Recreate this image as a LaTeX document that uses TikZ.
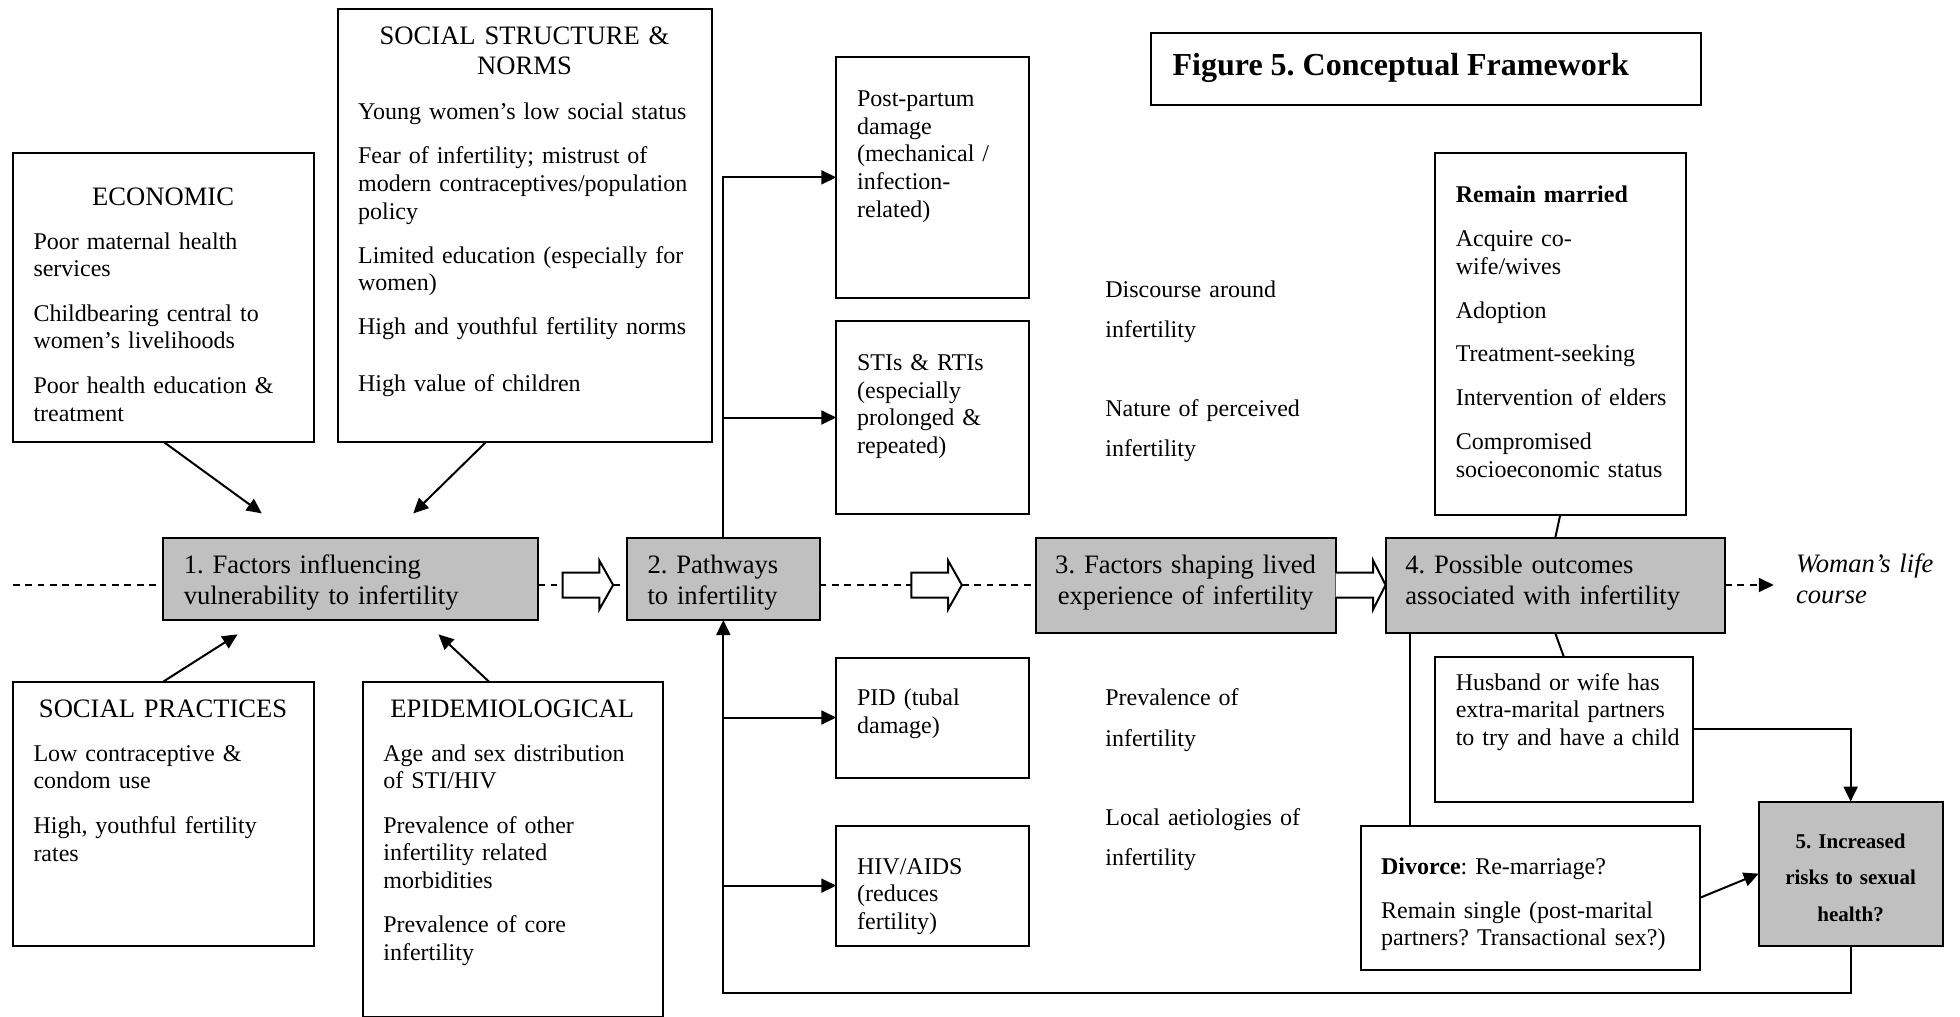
\documentclass[tikz,border=0pt]{standalone}
\usepackage{fontspec}
\setmainfont{Liberation Serif}
\usetikzlibrary{arrows.meta,fit}
\definecolor{boxgrey}{RGB}{192,192,192}
\frenchspacing

\tikzset{
  frame/.style={draw, line width=1pt, inner sep=0pt, outer sep=0pt},
  greybox/.style={frame, fill=boxgrey},
  body/.style={anchor=base west, inner sep=0pt, outer sep=0pt, align=left,
    text width=#1, font=\fontsize{12}{13.8}\selectfont},
  body/.default=120pt,
  wide/.style={body=#1, font=\fontsize{12}{20.3}\selectfont},
  wide/.default=110pt,
  heading/.style={anchor=base, inner sep=0pt, outer sep=0pt, align=center,
    text width=#1, font=\fontsize{13.3}{15}\selectfont},
  heading/.default=150pt,
  stage/.style={anchor=base west, inner sep=0pt, outer sep=0pt, align=left,
    text width=#1, font=\fontsize{13.3}{15.3}\selectfont},
  stage/.default=150pt,
  conn/.style={line width=1pt},
  arr/.style={conn, -{Triangle[length=7.5pt,width=7pt]}},
  dashline/.style={conn, dash pattern=on 3.4pt off 2.8pt},
  hollowarrow/.pic={
    \coordinate (-tail) at (0,0);
    \coordinate (-tip) at (40.5,0);
    \filldraw[conn, fill=white, line join=miter]
      (0,-10) -- (29.5,-10) -- (29.5,-19.5) -- (40.5,0) -- (29.5,19.5)
      -- (29.5,10) -- (0,10) -- cycle;
  },
  hollowhead/.pic={
    \coordinate (-tip) at (40,0);
    \fill[white] (0,-10) -- (30,-10) -- (30,-19.5) -- (40,0) -- (30,19.5)
      -- (30,10) -- (0,10) -- cycle;
    \draw[conn, line join=miter]
      (0,-10) -- (30,-10) -- (30,-19.5) -- (40,0) -- (30,19.5)
      -- (30,10) -- (0,10);
  },
}

\begin{document}
\begin{tikzpicture}[x=0.625pt, y=-0.625pt]
\useasboundingbox (0,0) rectangle (1568,813.6);

% ---------- title ----------
\node[frame, fit={(920.7,26.7) (1361,84.2)}] (titlebox) {};
\node[anchor=base west, inner sep=0pt, font=\fontsize{16}{19}\selectfont\bfseries]
  (title) at (937.8,60) {Figure 5. Conceptual Framework};

% ---------- determinants ----------
\node[frame, fit={(10.3,122.7) (250.9,353.3)}] (econ) {};
\node[heading] (econH) at (130.5,164.3) {ECONOMIC};
\node[body=136pt] (econT) at (26.8,199.3)
  {Poor maternal health\\services\\[8.5pt]Childbearing central to\\women’s livelihoods\\[8.5pt]Poor health education \&\\treatment};

\node[frame, fit={(270,7.5) (569.3,353.3)}] (socs) {};
\node[heading=180pt] (socsH) at (419.6,35.8) {SOCIAL STRUCTURE \&\\NORMS};
\node[body=174pt] (socsT) at (286.5,95.9)
  {Young women’s low social status\\[8.2pt]Fear of infertility; mistrust of\\modern contraceptives/population\\policy\\[8.2pt]Limited education (especially for\\women)\\[8.2pt]High and youthful fertility norms\\[14.5pt]High value of children};

\node[frame, fit={(10.3,545.3) (250.9,756.5)}] (socp) {};
\node[heading] (socpH) at (130.5,573.7) {SOCIAL PRACTICES};
\node[body=136pt] (socpT) at (26.8,609)
  {Low contraceptive \&\\condom use\\[8.5pt]High, youthful fertility\\rates};

\node[frame, fit={(290,545.3) (530,813.6)}] (epid) {};
\node[heading] (epidH) at (409.8,573.7) {EPIDEMIOLOGICAL};
\node[body=136pt] (epidT) at (306.7,609)
  {Age and sex distribution\\of STI/HIV\\[8.3pt]Prevalence of other\\infertility related\\morbidities\\[8.3pt]Prevalence of core\\infertility};

% ---------- stages along the life course ----------
\node[greybox, fit={(130.4,430) (430.5,496)}] (box1) {};
\node[stage=175pt] (box1T) at (147,459) {1. Factors influencing\\vulnerability to infertility};

\node[greybox, fit={(501.6,430) (655.7,496)}] (box2) {};
\node[stage=84pt] (box2T) at (518,459) {2. Pathways\\to infertility};

\node[greybox, fit={(828.6,430) (1068.5,506.7)}] (box3) {};
\node[stage=148pt, anchor=base, align=center] (box3T) at (948.5,459)
  {3. Factors shaping lived\\experience of infertility};

\node[greybox, fit={(1108.5,430) (1380,506.7)}] (box4) {};
\node[stage=156pt] (box4T) at (1124.2,459) {4. Possible outcomes\\associated with infertility};

\node[greybox, fit={(1407,641.3) (1554,756.5)}] (box5) {};
\node[anchor=base, inner sep=0pt, align=center, text width=88pt,
  font=\fontsize{10.5}{18.4}\selectfont\bfseries] (box5T) at (1480.5,678.5)
  {5. Increased\\risks to sexual\\health?};

\node[stage=80pt, font=\fontsize{13.3}{15.8}\selectfont\itshape] (life) at (1436.8,457.7)
  {Woman’s life\\course};

% ---------- pathways ----------
\node[frame, fit={(669,45.8) (823,238)}] (pp) {};
\node[body=84pt] (ppT) at (685.7,85.4)
  {Post-partum\\damage\\(mechanical /\\infection-\\related)};

\node[frame, fit={(669,257) (823,411)}] (sti) {};
\node[body=84pt] (stiT) at (685.7,296.5)
  {STIs \& RTIs\\(especially\\prolonged \&\\repeated)};

\node[frame, fit={(669,526) (823,622)}] (pid) {};
\node[body=84pt] (pidT) at (685.7,564.5) {PID (tubal\\damage)};

\node[frame, fit={(669,660.5) (823,756.5)}] (hiv) {};
\node[body=84pt] (hivT) at (685.7,699.3) {HIV/AIDS\\(reduces\\fertility)};

% ---------- lived experience ----------
\node[wide] (disc) at (884.3,237.6) {Discourse around\\infertility};
\node[wide] (nature) at (884.3,333) {Nature of perceived\\infertility};
\node[wide] (prev) at (884.3,564.5) {Prevalence of\\infertility};
\node[wide] (aetio) at (884.3,660) {Local aetiologies of\\infertility};

% ---------- outcomes ----------
\node[frame, fit={(1147.8,122.6) (1348.5,412)}] (rm) {};
\node[body=112pt] (rmT) at (1164.7,162.3)
  {\textbf{Remain married}\\[8.1pt]Acquire co-\\wife/wives\\[8.1pt]Adoption\\[8.1pt]Treatment-seeking\\[8.1pt]Intervention of elders\\[8.1pt]Compromised\\socioeconomic status};

\node[frame, fit={(1148,525.3) (1354,641.3)}] (hus) {};
\node[body=116pt] (husT) at (1164.6,552)
  {Husband or wife has\\extra-marital partners\\to try and have a child};

\node[frame, fit={(1088.5,660.6) (1359.8,776)}] (div) {};
\node[body=155pt] (divT) at (1104.9,699.3)
  {\textbf{Divorce}: Re-marriage?\\[8.2pt]Remain single (post-marital\\partners? Transactional sex?)};

% ---------- connectors ----------
\coordinate (axis) at (10.3,468);
\coordinate (lifeend) at (1419,468);
\coordinate (bottomrun) at (0,794.7);
\coordinate (tipA) at (209.4,410.7);
\coordinate (tipB) at (330.6,410.7);
\coordinate (tipC) at (190,507.5);
\coordinate (tipD) at (350.8,507.5);

% determinants feed stage 1
\draw[arr] (econ.south) -- (tipA);
\draw[arr] (socs.-100.5) -- (tipB);
\draw[arr] (socp.north) -- (tipC);
\draw[arr] (epid.98.5) -- (tipD);

% life-course axis
\pic (ha) at (450,468) {hollowarrow};
\pic (hb) at (729,468) {hollowarrow};
\pic (hc) at (box3.east |- axis) {hollowhead};
\draw[dashline] (axis) -- (box1.west |- axis);
\draw[dashline] (box1.east |- axis) -- (ha-tail);
\draw[dashline] (ha-tip) -- (box2.west |- axis);
\draw[dashline] (box2.east |- axis) -- (hb-tail);
\draw[dashline] (hb-tip) -- (box3.west |- axis);
\draw[dashline, -{Triangle[length=7.5pt,width=7pt]}] (box4.east |- axis) -- (lifeend);

% pathways above stage 2
\draw[arr] (box2.north) -- (box2.north |- pp.west) -- (pp.west);
\draw[arr] (box2.north |- sti.west) -- (sti.west);

% pathways below stage 2 and the feedback loop from stage 5
\draw[arr] (box5.south) -- (box5.south |- bottomrun) -- (box2.south |- bottomrun) -- (box2.south);
\draw[arr] (box2.south |- pid.west) -- (pid.west);
\draw[arr] (box2.south |- hiv.west) -- (hiv.west);

% outcomes
\draw[conn] (rm.south) -- (box4.north);
\draw[conn] (box4.south) -- (hus.north);
\draw[conn] ([xshift=12.4pt]box4.south west) -- ([xshift=12.4pt]box4.south west |- div.north);
\draw[arr] (hus.east) -- (box5.north |- hus.east) -- (box5.north);
\draw[arr] (div.east) -- (box5.west);

\end{tikzpicture}
\end{document}
